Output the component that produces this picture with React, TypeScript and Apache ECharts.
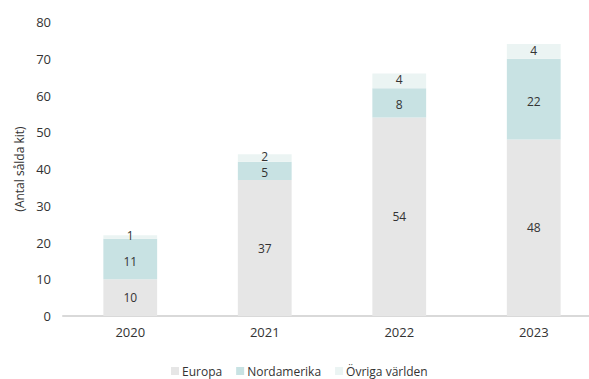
import React, { useEffect, useRef } from "react";
import * as echarts from "echarts";

const categories = ["2020", "2021", "2022", "2023"];
const europa = [10, 37, 54, 48];
const nordamerika = [11, 5, 8, 22];
const ovriga = [1, 2, 4, 4];
const seriesNames = ["Europa", "Nordamerika", "Övriga världen"];
const colors = ["#e6e6e6", "#c8e2e3", "#ebf4f3"];
const labelOffsets = [[0, 0], [0, 2], [0, -1]];

export default function App() {
  const ref = useRef<HTMLDivElement>(null);
  useEffect(() => {
    if (!ref.current) return;
    const chart = echarts.init(ref.current, null, { renderer: "svg" });
    const font = "'Open Sans', Roboto, sans-serif";
    const data = [europa, nordamerika, ovriga];
    chart.setOption({
      animation: false,
      textStyle: { fontFamily: font },
      grid: { left: 63, right: -12, top: 22, bottom: 63, outerBoundsMode: "none", containLabel: false },
      legend: {
        data: seriesNames,
        top: 360,
        left: 166,
        itemWidth: 8,
        itemHeight: 8,
        itemGap: 14,
        icon: "rect",
        textStyle: { fontFamily: font, fontSize: 12, color: "#333", padding: [0, 0, 0, -2] },
      },
      xAxis: {
        type: "category",
        data: categories,
        axisLine: { lineStyle: { color: "#d9d9d9", width: 2 } },
        axisTick: { show: false },
        axisLabel: { color: "#333", fontSize: 13, margin: 9 },
      },
      yAxis: {
        type: "value",
        min: 0,
        max: 80,
        interval: 10,
        name: "(Antal sålda kit)",
        nameLocation: "middle",
        nameGap: 38,
        nameRotate: 90,
        nameTextStyle: { color: "#333", fontSize: 12, fontFamily: font },
        splitLine: { show: false },
        axisLine: { show: false },
        axisTick: { show: false },
        axisLabel: { color: "#333", fontSize: 13, margin: 12 },
      },
      series: seriesNames.map((name, i) => ({
        name,
        type: "bar",
        stack: "total",
        barWidth: "40%",
        data: data[i],
        itemStyle: { color: colors[i] },
        label: {
          show: true,
          position: "inside",
          offset: labelOffsets[i],
          color: "#333",
          fontSize: 12,
          lineHeight: 12,
          fontFamily: font,
        },
      })),
    });
    return () => chart.dispose();
  }, []);
  return (
    <div
      ref={ref}
      style={{ position: "fixed", left: 0, top: 0, width: 589, height: 379, background: "#fff" }}
    />
  );
}
